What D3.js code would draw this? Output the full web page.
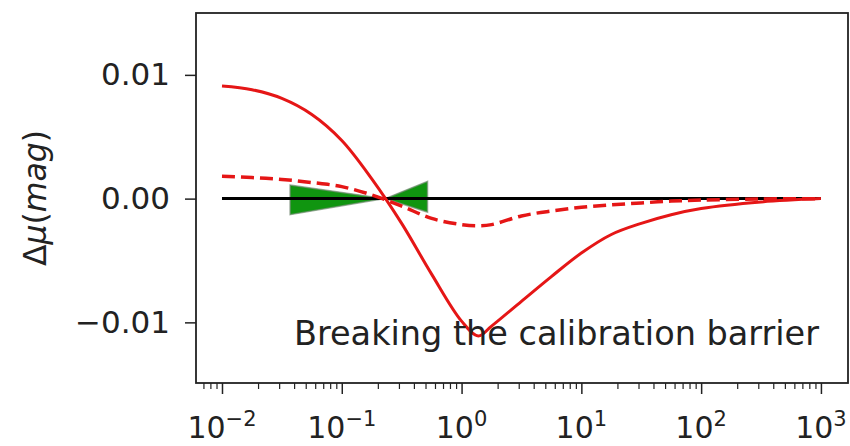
<!DOCTYPE html>
<html lang="en">
  <head>
    <meta charset="utf-8">
    <title>Breaking the calibration barrier</title>
    <script src="https://d3js.org/d3.v7.min.js"></script>
    <style type="text/css">
  body,html{
    margin: 0;
    padding: 0;
    background: #fff;
    font-family: "DejaVu Sans", sans-serif;
  }
  .tick text{ font-family: "DejaVu Sans", sans-serif; }
    </style>
  </head>
  <body>
    <script type="text/javascript">

      var w = 850;
      var h = 446;

      var margin = { top: 13, right: 2, bottom: 63, left: 196 };

      // curves sampled along x (log axis)
      var xValues = [0.01, 0.0178, 0.0316, 0.0562, 0.1, 0.178, 0.316, 0.562, 1, 1.38, 1.78, 3.16, 5.62, 10, 17.8, 31.6, 56.2, 100, 316, 1000];
      var solidValues = [0.0091, 0.0088, 0.0081, 0.0068, 0.0047, 0.0016, -0.0020, -0.0061, -0.0099, -0.0111, -0.0103, -0.0083, -0.0063, -0.0044, -0.0029, -0.0020, -0.0013, -0.0008, -0.00027, 0];
      var dashedValues = [0.0018, 0.0017, 0.00155, 0.0013, 0.00097, 0.0003, -0.0006, -0.0016, -0.0021, -0.0022, -0.0021, -0.0014, -0.0010, -0.0007, -0.0005, -0.00035, -0.0002, -0.00012, -0.00003, 0];

      // zero reference line
      var zeroX = [0.01, 1000];
      var zeroY = [0, 0];

      // green uncertainty band (bow tie)
      var bandX = [0.037, 0.23, 0.52];
      var bandLow = [-0.0013, 0, -0.0011];
      var bandHigh = [0.0011, 0, 0.0014];

      var xMajorTicks = [-2, -1, 0, 1, 2, 3];   // exponents
      var yTicks = [-0.01, 0, 0.01];
      var yTickLabels = ["\u22120.01", "0.00", "0.01"];
      var annotation = "Breaking the calibration barrier";

      var width = w - margin.left - margin.right;
      var height = h - margin.top - margin.bottom;

      var svg = d3.select("body")
        .append("svg")
        .attr("width", w)
        .attr("height", h);

      var g = svg.append("g")
        .attr("transform", "translate(" + margin.left + "," + margin.top + ")");

      var x = d3.scaleLog()
        .domain([Math.pow(10, -2.217), Math.pow(10, 3.226)])
        .range([0, width]);

      var y = d3.scaleLinear()
        .domain([-0.0149, 0.0150])
        .range([height, 0]);

      var line = d3.line()
        .x(function(d){ return x(d[0]); })
        .y(function(d){ return y(d[1]); })
        .curve(d3.curveCatmullRom.alpha(0.5));

      var area = d3.area()
        .x(function(d){ return x(d[0]); })
        .y0(function(d){ return y(d[1]); })
        .y1(function(d){ return y(d[2]); });

      // band
      var band = bandX.map(function(v, i){ return [v, bandLow[i], bandHigh[i]]; });
      g.append("path")
        .datum(band)
        .attr("d", area)
        .style("fill", "#109510")
        .style("stroke", "#7a8f7a")
        .style("stroke-width", 1.5)
        .style("stroke-opacity", 0.7);

      // zero line
      g.append("path")
        .datum(zeroX.map(function(v, i){ return [v, zeroY[i]]; }))
        .attr("d", d3.line().x(function(d){ return x(d[0]); }).y(function(d){ return y(d[1]); }))
        .style("fill", "none")
        .style("stroke", "#000")
        .style("stroke-width", 3);

      // dashed red
      g.append("path")
        .datum(xValues.map(function(v, i){ return [v, dashedValues[i]]; }))
        .attr("d", line)
        .style("fill", "none")
        .style("stroke", "#e51616")
        .style("stroke-width", 3.5)
        .style("stroke-dasharray", "13,6");

      // solid red
      g.append("path")
        .datum(xValues.map(function(v, i){ return [v, solidValues[i]]; }))
        .attr("d", line)
        .style("fill", "none")
        .style("stroke", "#e51616")
        .style("stroke-width", 3);

      // annotation
      g.append("text")
        .attr("x", 819 - margin.left)
        .attr("y", 345 - margin.top)
        .attr("text-anchor", "end")
        .style("font-size", "33.5px")
        .style("fill", "#222")
        .text(annotation);

      // x axis: major + minor ticks
      var minorTicks = [];
      for (var e = -3; e <= 3; e++) {
        for (var m = 2; m <= 9; m++) {
          var v = m * Math.pow(10, e);
          if (v >= x.domain()[0] && v <= x.domain()[1]) minorTicks.push(v);
        }
      }

      g.append("g")
        .attr("transform", "translate(0," + height + ")")
        .call(d3.axisBottom(x).tickValues(minorTicks).tickSize(6).tickFormat(""))
        .call(function(s){ s.select(".domain").remove(); })
        .selectAll("line").style("stroke-width", 1.2).style("stroke", "#222");

      var xAxis = g.append("g")
        .attr("transform", "translate(0," + height + ")")
        .call(d3.axisBottom(x).tickValues(xMajorTicks.map(function(e){ return Math.pow(10, e); })).tickSize(11).tickFormat(""));
      xAxis.select(".domain").remove();
      xAxis.selectAll("line").style("stroke-width", 1.5).style("stroke", "#222");

      xMajorTicks.forEach(function(e){
        var t = g.append("text")
          .attr("x", x(Math.pow(10, e)))
          .attr("y", height + 55)
          .attr("text-anchor", "middle")
          .style("font-size", "30px")
          .style("fill", "#222");
        t.append("tspan").text("10");
        t.append("tspan")
          .attr("dy", "-12")
          .style("font-size", "21px")
          .text(e < 0 ? "\u2212" + (-e) : String(e));
      });

      // y axis
      var yAxis = g.append("g")
        .call(d3.axisLeft(y).tickValues(yTicks).tickSize(11).tickPadding(15)
          .tickFormat(function(d, i){ return yTickLabels[i]; }));
      yAxis.select(".domain").remove();
      yAxis.selectAll("line").style("stroke-width", 1.5).style("stroke", "#222");
      yAxis.selectAll("text").style("font-size", "31px").style("fill", "#222");

      // frame
      g.append("rect")
        .attr("width", width)
        .attr("height", height)
        .style("fill", "none")
        .style("stroke", "#222")
        .style("stroke-width", 1.8);

      // y label
      var yl = svg.append("text")
        .attr("transform", "translate(46,198) rotate(-90)")
        .attr("text-anchor", "middle")
        .style("font-size", "31.5px")
        .style("fill", "#222");
      yl.append("tspan").text("\u0394");
      yl.append("tspan").style("font-style", "italic").text("\u03bc");
      yl.append("tspan").text("(");
      yl.append("tspan").style("font-style", "italic").text("mag");
      yl.append("tspan").text(")");

    </script>
  </body>
</html>
